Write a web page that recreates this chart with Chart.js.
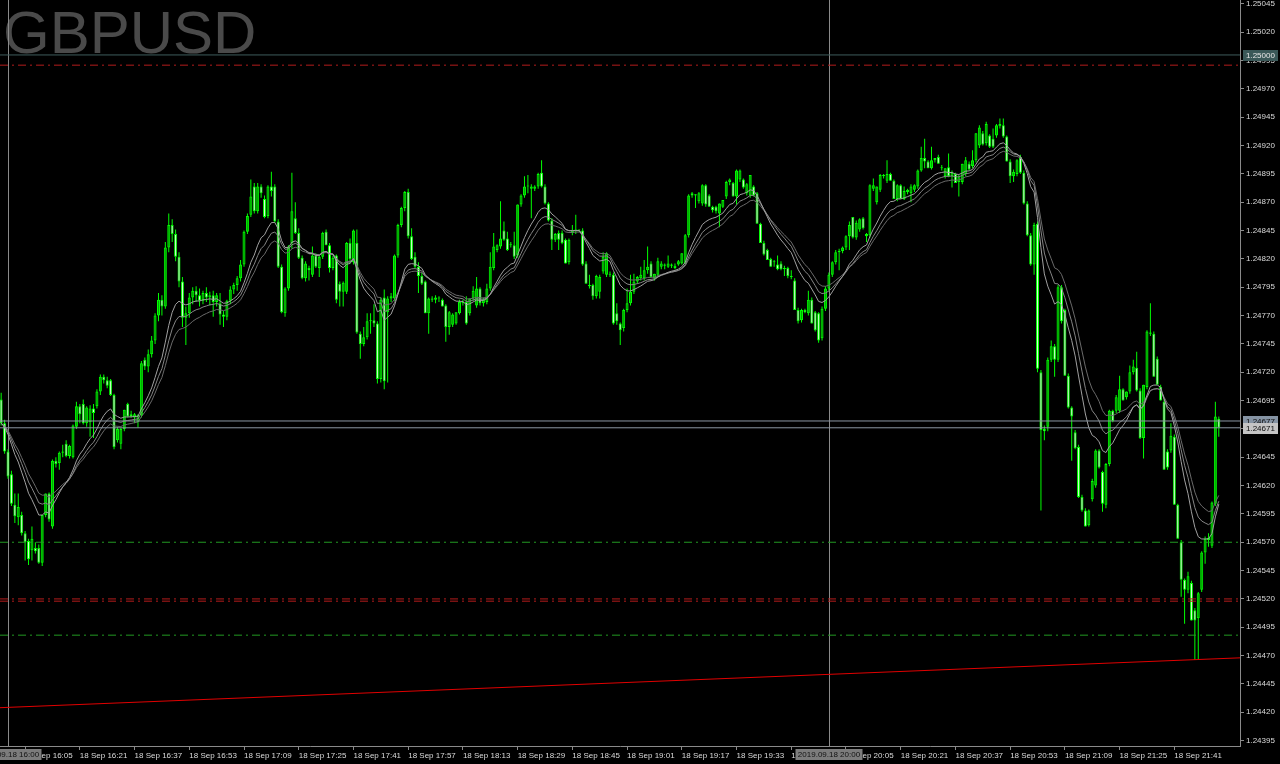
<!DOCTYPE html>
<html>
<head>
<meta charset="utf-8">
<style>
  html, body { margin: 0; padding: 0; background: #000; }
  canvas { display: block; }
</style>
<script src="https://cdn.jsdelivr.net/npm/chart.js@4.4.1/dist/chart.umd.min.js"></script>
</head>
<body>
<canvas id="chart" width="1280" height="764"></canvas>
<script>
(() => {
  const symbol = "GBPUSD";
  const dateLabel = "18 Sep";
  const firstBarMinute = -2; // 15:58, counted in minutes from 16:00
  const priceBase = 1.24;    // bar values are in 0.00001 steps above this

  const opens = [
    696,675,650,630,603,592,594,578,571,563, 565,565,552,594,613,584,642,640,649,657,
    646,645,672,690,692,675,676,688,690,703, 716,713,713,700,660,657,670,692,683,680,
    676,682,731,725,736,748,770,784,778,830, 850,842,822,800,768,772,786,792,788,783,
    790,786,788,782,781,771,769,783,793,797, 803,815,844,859,884,862,884,873,858,884,
    884,853,813,772,794,834,856,843,821,803, 812,806,823,812,822,844,832,812,823,798,
    791,791,834,817,834,754,745,751,765,766, 763,714,786,773,785,785,823,850,865,879,
    840,822,813,805,800,772,785,784,786,784, 779,760,762,763,772,782,782,772,785,779,
    794,781,782,794,812,828,831,845,838,833, 832,823,868,876,884,882,882,884,896,884,
    869,854,837,843,843,837,817,843,845,845, 845,816,797,797,787,791,809,806,807,806,
    772,763,759,775,781,791,800,803,803,810, 816,803,806,813,815,813,814,812,815,816,
    816,841,878,876,871,869,885,876,866,866, 860,866,875,888,887,875,890,890,878,876,
    884,878,851,834,828,820,817,815,816,811, 812,805,801,775,766,775,772,784,773,772,
    750,776,794,806,817,826,827,830,840,857, 839,846,856,840,841,882,870,881,893,889,
    895,889,873,885,873,879,878,881,884,898, 909,906,900,907,910,901,893,901,893,895,
    888,888,895,904,902,907,920,931,922,929, 926,929,937,938,928,906,893,895,910,896,
    869,841,815,851,720,670,672,731,743,731, 795,775,717,689,667,654,610,598,585,608,
    620,651,632,603,639,686,686,686,705,698, 703,720,724,704,662,707,755,754,732,707,
    694,650,651,663,603,570,537,528,534,510, 503,528,561,572,567,604,679
  ];
  const highs = [
    702,678,652,633,613,613,597,580,573,584, 570,568,594,613,614,643,645,650,656,660,
    656,674,694,692,696,690,691,692,705,718, 718,716,714,701,672,671,687,693,686,684,
    683,730,733,740,752,772,790,788,835,860, 855,846,826,804,778,790,795,796,794,792,
    795,791,792,790,790,774,784,796,799,805, 819,845,860,890,887,887,886,876,885,897,
    886,855,815,795,832,896,870,847,823,818, 814,831,825,823,844,846,834,823,824,800,
    800,835,838,846,846,756,760,772,772,780, 765,786,793,787,790,824,851,866,880,882,
    847,826,817,808,801,786,787,788,787,785, 780,774,772,773,784,784,787,785,796,804,
    795,786,798,826,843,833,871,853,844,835, 844,868,877,893,894,886,885,896,907,886,
    870,856,843,845,845,838,838,850,859,846, 847,818,806,798,806,806,826,826,809,808,
    781,764,776,794,806,807,805,813,819,831, 818,807,821,818,816,823,816,816,819,825,
    842,877,879,877,879,886,886,877,867,867, 869,872,889,891,888,899,899,891,887,894,
    885,879,852,836,829,821,819,823,818,814, 813,810,803,777,776,776,792,786,774,773,
    778,796,808,818,828,829,831,841,853,857, 854,856,857,843,886,891,884,895,895,907,
    896,890,886,886,884,882,886,886,899,919, 926,907,919,909,912,903,900,913,898,896,
    894,904,910,906,916,931,938,933,941,930, 935,939,944,944,929,908,899,908,912,898,
    871,843,852,853,722,673,733,748,745,797, 797,776,719,690,669,656,612,600,599,626,
    652,652,633,640,687,687,700,717,706,703, 726,731,738,706,709,757,781,756,734,709,
    696,652,675,665,604,572,538,544,536,512, 526,562,575,578,606,694,681
  ];
  const lows = [
    673,648,626,602,587,585,576,554,550,554, 560,551,549,592,588,582,636,634,645,645,
    644,644,670,675,674,672,663,662,688,700, 710,706,699,652,658,652,668,680,680,675,
    671,680,722,720,733,745,765,770,776,826, 835,818,795,760,744,768,780,782,778,780,
    782,779,769,778,762,760,766,780,789,792, 800,813,842,857,860,860,874,856,856,875,
    852,812,772,769,792,829,842,820,802,800, 801,804,812,804,820,832,808,810,781,778,
    778,789,816,815,754,732,743,749,754,760, 710,711,705,711,782,783,821,848,862,838,
    819,812,790,797,772,754,782,781,782,778, 747,753,760,762,771,779,762,770,783,777,
    779,778,780,792,810,826,829,836,827,830, 820,821,866,874,878,856,880,882,883,868,
    853,828,835,828,833,816,815,841,842,844, 814,798,794,784,785,785,807,804,804,762,
    762,744,756,773,779,789,798,801,801,807, 804,801,804,811,811,812,812,811,814,815,
    815,839,874,865,869,867,866,866,861,860, 848,865,873,885,875,868,888,882,876,874,
    875,851,834,823,819,813,813,810,810,805, 803,802,775,763,764,772,770,763,756,746,
    748,774,792,804,815,810,825,828,828,838, 837,844,846,835,839,880,868,879,891,887,
    889,873,871,873,872,877,870,879,882,897, 900,900,899,905,904,898,891,892,883,887,
    875,886,893,898,900,905,918,920,920,918, 918,927,935,927,906,887,888,893,895,868,
    840,814,806,720,598,660,668,729,716,729, 763,717,688,642,652,609,597,584,584,606,
    618,635,597,600,637,676,684,684,695,696, 701,718,703,661,644,705,752,716,709,695,
    634,634,649,603,573,522,498,525,501,466, 466,526,551,566,565,602,663
  ];
  const closes = [
    675,650,628,604,593,601,578,570,555,573, 562,552,594,613,590,642,639,649,650,646,
    655,673,690,683,675,689,688,684,703,716, 713,708,700,654,670,670,687,681,681,683,
    682,728,725,736,748,770,784,778,830,850, 842,822,800,768,772,786,792,788,783,790,
    786,788,782,788,771,769,783,793,797,803, 815,844,858,875,862,884,878,857,884,880,
    853,813,773,794,831,862,843,821,803,816, 810,823,813,822,843,832,812,821,784,791,
    799,834,820,845,755,745,751,765,766,763, 714,784,712,785,787,823,850,865,879,840,
    820,813,805,798,772,785,784,786,785,778, 760,773,771,773,782,781,763,785,792,794,
    781,784,794,813,831,832,838,837,828,832, 822,868,876,884,884,884,884,895,884,869,
    854,837,842,837,834,816,837,845,846,845, 815,798,796,787,805,804,822,825,806,763,
    765,757,775,781,791,800,804,806,810,813, 804,807,818,816,814,816,815,814,818,825,
    841,876,876,877,878,885,868,866,863,862, 869,872,888,890,875,898,898,883,886,894,
    876,851,834,824,819,813,817,811,811,812, 805,804,775,765,775,773,784,763,757,748,
    776,794,806,817,826,827,830,840,850,839, 852,855,847,842,885,885,884,894,894,895,
    889,873,885,873,880,881,884,885,898,909, 906,900,907,909,904,900,900,893,896,887,
    892,904,907,899,907,931,936,921,939,919, 919,938,939,928,906,893,897,907,896,869,
    841,815,850,723,669,668,731,743,731,795, 765,717,689,681,653,610,598,584,598,624,
    651,636,604,639,686,677,698,705,695,703, 720,725,704,662,709,756,754,716,709,695,
    634,636,664,603,573,537,528,540,501,501, 525,561,573,574,605,681,671
  ];

  const timeTicks = [
    "16:05", "16:21", "16:37", "16:53", "17:09", "17:25", "17:41", "17:57",
    "18:13", "18:29", "18:45", "19:01", "19:17", "19:33", "19:49", "20:05",
    "20:21", "20:37", "20:53", "21:09", "21:25", "21:41"
  ];
  const priceTicks = [
    "1.25045", "1.25020", "1.24995", "1.24970", "1.24945", "1.24920", "1.24895",
    "1.24870", "1.24845", "1.24820", "1.24795", "1.24770", "1.24745", "1.24720",
    "1.24695", "1.24670", "1.24645", "1.24620", "1.24595", "1.24570", "1.24545",
    "1.24520", "1.24495", "1.24470", "1.24445", "1.24420", "1.24395"
  ];
  const maPeriods = [13, 17, 21];
  const roundLevel = 1.25000;
  const redLevels = [1.24991, 1.24520, 1.24518];
  const greenLevels = [1.24570, 1.24488];
  const askPrice = 1.24677;
  const bidPrice = 1.24671;
  const separatorTimes = ["16:00", "20:00"];
  const separatorDate = "2019.09.18";
  const trendMinutes = [-2.34, 360.2];
  const trendPrices = [1.24424, 1.24468];

  const xMin = -2.34;
  const xMax = 360.2;
  const yMin = 1.243902;
  const yMax = 1.250485;

  const palette = {
    wick: "#00ff00",
    bull: "#00a800",
    bear: "#d8ffd8",
    ma: ["#a0a0a0", "#858585", "#6a6a6a"],
    axis: "#8a8a8a",
    text: "#dadada",
    title: "#4a4a4a",
    separator: "#8a8a8a",
    round: "#3e5c5c",
    red: "#b41c1c",
    green: "#229a22",
    trend: "#e00000",
    quote: "#8a96a2"
  };
  const font = "Liberation Sans";
  const dashDot = [8, 4, 2, 4];

  const toMinute = (hhmm) => {
    const [h, m] = hhmm.split(":").map(Number);
    return (h - 16) * 60 + m;
  };
  const toPrice = (v) => priceBase + v / 100000;

  const barMinutes = closes.map((_, i) => firstBarMinute + i);

  const ema = (values, period) => {
    const k = 2 / (period + 1);
    let prev = values[0];
    return values.map((v) => (prev = prev + k * (v - prev)));
  };

  const wickData = barMinutes.map((m, i) => ({ x: m, y: [toPrice(lows[i]), toPrice(highs[i])] }));
  const bodyData = barMinutes.map((m, i) => ({
    x: m,
    y: [toPrice(Math.min(opens[i], closes[i])), toPrice(Math.max(opens[i], closes[i]))]
  }));
  const bodyFill = opens.map((o, i) => (closes[i] >= o ? palette.bull : palette.bear));

  const flatLine = (price, color, dash, order) => ({
    type: "line",
    data: [{ x: xMin, y: price }, { x: xMax, y: price }],
    borderColor: color,
    borderWidth: 1,
    borderDash: dash,
    pointRadius: 0,
    order
  });

  const datasets = [
    {
      type: "bar",
      data: wickData,
      backgroundColor: palette.wick,
      borderWidth: 0,
      barThickness: 1,
      grouped: false,
      inflateAmount: 0,
      order: 6
    },
    {
      type: "bar",
      data: bodyData,
      backgroundColor: bodyFill,
      borderColor: palette.wick,
      borderWidth: 1,
      borderSkipped: false,
      barThickness: 3,
      minBarLength: 1,
      grouped: false,
      inflateAmount: 0,
      order: 5
    }
  ];

  maPeriods.forEach((period, idx) => {
    const values = ema(closes, period);
    datasets.push({
      type: "line",
      data: barMinutes.map((m, i) => ({ x: m, y: toPrice(values[i]) })),
      borderColor: palette.ma[idx],
      borderWidth: 1,
      pointRadius: 0,
      tension: 0,
      order: 4
    });
  });

  datasets.push(flatLine(roundLevel, palette.round, [], 3));
  redLevels.forEach((p) => datasets.push(flatLine(p, palette.red, dashDot, 3)));
  greenLevels.forEach((p) => datasets.push(flatLine(p, palette.green, dashDot, 3)));
  datasets.push(flatLine(askPrice, palette.quote, [], 2));
  datasets.push(flatLine(bidPrice, palette.quote, [], 2));
  datasets.push({
    type: "line",
    data: trendMinutes.map((m, i) => ({ x: m, y: trendPrices[i] })),
    borderColor: palette.trend,
    borderWidth: 1,
    pointRadius: 0,
    order: 1
  });

  const priceBoxes = [
    { price: roundLevel, bg: "#3a5858", fg: "#e6e6e6" },
    { price: askPrice, bg: "#8593a3", fg: "#0a0a0a" },
    { price: bidPrice, bg: "#c4c4c4", fg: "#0a0a0a" }
  ];

  const decor = {
    id: "decor",
    beforeDatasetsDraw(chart) {
      const { ctx, chartArea, scales } = chart;
      ctx.save();
      ctx.font = `60px "${font}"`;
      ctx.fillStyle = palette.title;
      ctx.textBaseline = "alphabetic";
      ctx.fillText(symbol, 3, 53);

      ctx.strokeStyle = palette.separator;
      ctx.lineWidth = 1;
      separatorTimes.forEach((t) => {
        const x = Math.round(scales.x.getPixelForValue(toMinute(t))) + 0.5;
        ctx.beginPath();
        ctx.moveTo(x, chartArea.top);
        ctx.lineTo(x, chartArea.bottom);
        ctx.stroke();
      });
      ctx.restore();
    },
    afterDraw(chart) {
      const { ctx, chartArea, scales } = chart;
      ctx.save();
      ctx.font = `8px "${font}"`;
      ctx.textBaseline = "middle";

      separatorTimes.forEach((t) => {
        const text = `${separatorDate} ${t}`;
        const x = Math.round(scales.x.getPixelForValue(toMinute(t)));
        const w = Math.ceil(ctx.measureText(text).width) + 4;
        const top = chartArea.bottom + 3;
        ctx.fillStyle = "#7c7c7c";
        ctx.fillRect(x - w / 2, top, w, 11);
        ctx.fillStyle = "#121212";
        ctx.textAlign = "center";
        ctx.fillText(text, x, top + 6);
      });

      priceBoxes.forEach((b) => {
        const y = Math.round(scales.y.getPixelForValue(b.price));
        const left = chartArea.right + 3;
        ctx.fillStyle = b.bg;
        ctx.fillRect(left, y - 5, 35, 11);
        ctx.fillStyle = b.fg;
        ctx.textAlign = "left";
        ctx.fillText(b.price.toFixed(5), left + 3, y + 1);
      });
      ctx.restore();
    }
  };

  Chart.defaults.font.family = font;

  new Chart(document.getElementById("chart"), {
    type: "bar",
    data: { datasets },
    options: {
      responsive: false,
      animation: false,
      devicePixelRatio: 1,
      layout: { padding: 0 },
      plugins: { legend: { display: false }, tooltip: { enabled: false } },
      scales: {
        x: {
          type: "linear",
          position: "bottom",
          min: xMin,
          max: xMax,
          offset: false,
          afterBuildTicks: (axis) => {
            axis.ticks = timeTicks.map((t) => ({ value: toMinute(t) }));
          },
          afterFit: (axis) => {
            axis.height = 18;
            axis.paddingLeft = 0;
            axis.paddingRight = 0;
          },
          grid: { drawOnChartArea: false, offset: false, tickLength: 4, color: palette.axis },
          border: { color: palette.axis },
          ticks: {
            autoSkip: false,
            maxRotation: 0,
            minRotation: 0,
            align: "start",
            padding: 1,
            color: palette.text,
            font: { size: 8 },
            callback: (_value, index) => `${dateLabel} ${timeTicks[index]}`
          }
        },
        y: {
          type: "linear",
          position: "right",
          min: yMin,
          max: yMax,
          beginAtZero: false,
          afterBuildTicks: (axis) => {
            axis.ticks = priceTicks.map((t) => ({ value: Number(t) }));
          },
          afterFit: (axis) => {
            axis.width = 40;
            axis.paddingTop = 0;
            axis.paddingBottom = 0;
          },
          grid: { drawOnChartArea: false, tickLength: 4, color: palette.axis },
          border: { color: palette.axis },
          ticks: {
            padding: 2,
            color: palette.text,
            font: { size: 8 },
            callback: (_value, index) => priceTicks[index]
          }
        }
      }
    },
    plugins: [decor]
  });
})();
</script>
</body>
</html>
